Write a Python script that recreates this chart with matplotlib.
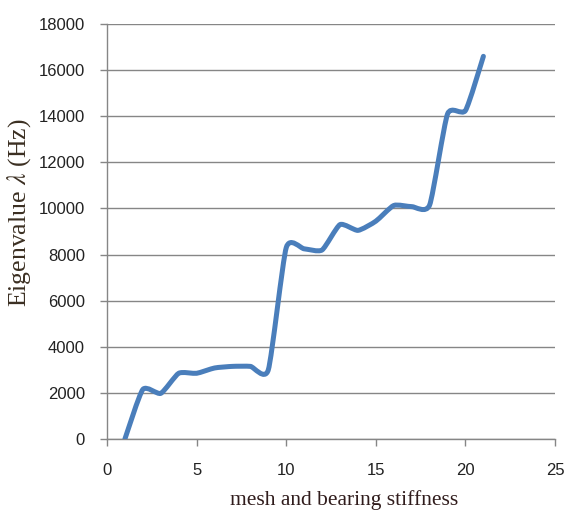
import numpy
from matplotlib import pyplot as plt
from matplotlib.path import Path
from matplotlib.patches import PathPatch

# stiffness steps and eigenvalues
stiffness = [1, 2, 3, 4, 5, 6, 7, 8, 9, 10, 11, 12, 13, 14, 15, 16, 17, 18, 19, 20, 21]
eigenvalue = [0, 2150, 1980, 2850, 2850, 3080, 3150, 3150, 3000, 8300, 8250, 8200,
              9300, 9050, 9450, 10130, 10080, 10150, 14100, 14250, 16600]

xTicks = [0, 5, 10, 15, 20, 25]
yTicks = [0, 2000, 4000, 6000, 8000, 10000, 12000, 14000, 16000, 18000]

lineColor = '#4a7ebb'
axisGrey = '#868686'

plt.rcParams['mathtext.fontset'] = 'stix'

fig = plt.figure(figsize=(5.67, 5.12), dpi=100)
ax = fig.add_axes([0.1887, 0.1426, 0.979 - 0.1887, 0.953 - 0.1426])

# smoothed line: bezier segments, control points from neighbours (low tension)
tension = 0.1
x = numpy.array(stiffness, dtype=float)
y = numpy.array(eigenvalue, dtype=float)
verts = [(x[0], y[0])]
codes = [Path.MOVETO]
n = len(x)
for i in range(n - 1):
    x0, y0 = (x[i - 1], y[i - 1]) if i > 0 else (x[i], y[i])
    x3, y3 = (x[i + 2], y[i + 2]) if i + 2 < n else (x[i + 1], y[i + 1])
    c1 = (x[i] + (x[i + 1] - x0) * tension, y[i] + (y[i + 1] - y0) * tension)
    c2 = (x[i + 1] - (x3 - x[i]) * tension, y[i + 1] - (y3 - y[i]) * tension)
    verts += [c1, c2, (x[i + 1], y[i + 1])]
    codes += [Path.CURVE4, Path.CURVE4, Path.CURVE4]
patch = PathPatch(Path(verts, codes), facecolor='none', edgecolor=lineColor,
                  linewidth=3.6, capstyle='round', joinstyle='round', zorder=3)
ax.add_patch(patch)

ax.set_xlim(0, 25)
ax.set_ylim(0, 18000)
ax.set_xticks(xTicks)
ax.set_yticks(yTicks)
ax.set_xticklabels([str(t) for t in xTicks], fontsize=12, family='Liberation Sans')
ax.set_yticklabels([str(t) for t in yTicks], fontsize=12, family='Liberation Sans')

ax.grid(axis='y', color=axisGrey, linewidth=1.0)
ax.set_axisbelow(True)
for side in ['top', 'right']:
    ax.spines[side].set_visible(False)
for side in ['left', 'bottom']:
    ax.spines[side].set_color(axisGrey)
    ax.spines[side].set_linewidth(1.0)
ax.tick_params(axis='both', colors=axisGrey, labelcolor='#222222', length=5, width=1.0)
ax.tick_params(axis='y', pad=11)
ax.tick_params(axis='x', pad=12)

ax.set_xlabel('mesh and bearing stiffness', fontsize=15.5, family='Liberation Serif',
              color='#301c1c', va='center')
ax.xaxis.set_label_coords(0.529, -0.147)
ax.set_ylabel(r'Eigenvalue $\lambda$ (Hz)', fontsize=18.5, family='Liberation Serif',
              color='#3b2f22', va='center')
ax.yaxis.set_label_coords(-0.196, 0.545)

fig.savefig('out.png', dpi=100)
plt.close(fig)
